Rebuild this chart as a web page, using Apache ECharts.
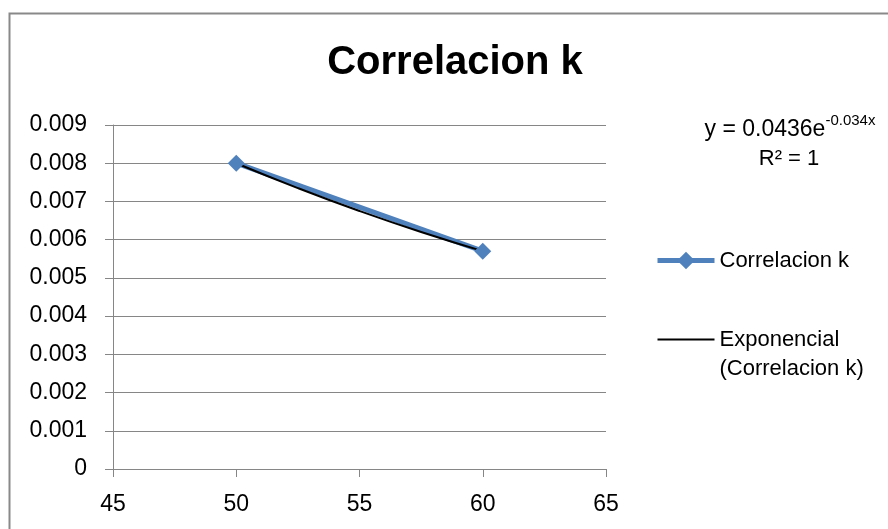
<!DOCTYPE html>
<html>
<head>
<meta charset="utf-8">
<script src="https://cdn.jsdelivr.net/npm/echarts@6/dist/echarts.min.js"></script>
<style>
html,body{margin:0;padding:0;background:#fff;}
#chart{width:888px;height:529px;}
</style>
</head>
<body>
<div id="chart"></div>
<script>
var titleText = 'Correlacion k';
var seriesName = 'Correlacion k';
var trendName = 'Exponencial (Correlacion k)';
var xValues = [50, 60];
var kValues = [0.0080, 0.0057];
var trendX = [50, 52.5, 55, 57.5, 60];
var trendY = [0.0080, 0.00735, 0.00675, 0.0062, 0.0057];
var xTicks = [45, 50, 55, 60, 65];
var yTickLabels = ['0', '0.001', '0.002', '0.003', '0.004', '0.005', '0.006', '0.007', '0.008', '0.009'];
var equationMain = 'y = 0.0436e';
var equationExp = '-0.034x';
var rSquared = 'R² = 1';

var FONT = '"Liberation Sans", Arial, sans-serif';
var chart = echarts.init(document.getElementById('chart'), null, {renderer: 'canvas'});

var mainData = xValues.map(function (x, i) { return [x, kValues[i]]; });
var trendData = trendX.map(function (x, i) { return [x, trendY[i]]; });

chart.setOption({
  animation: false,
  backgroundColor: '#ffffff',
  title: {
    text: titleText,
    left: 450,
    top: 38,
    textAlign: 'center',
    textStyle: {fontFamily: FONT, fontWeight: 'bold', fontSize: 40, color: '#000'}
  },
  grid: {left: 113, right: 282, top: 125, bottom: 60},
  xAxis: {
    type: 'value',
    min: xTicks[0],
    max: xTicks[xTicks.length - 1],
    interval: 5,
    axisLine: {show: true, lineStyle: {color: '#868686', width: 1}},
    axisTick: {show: true, length: 8, lineStyle: {color: '#868686'}},
    splitLine: {show: false},
    axisLabel: {fontFamily: FONT, fontSize: 23, color: '#000', margin: 24}
  },
  yAxis: {
    type: 'value',
    min: 0,
    max: 0.009,
    interval: 0.001,
    axisLine: {show: true, lineStyle: {color: '#868686', width: 1}},
    axisTick: {show: true, length: 8, lineStyle: {color: '#868686'}},
    splitLine: {show: true, lineStyle: {color: '#868686', width: 1}},
    axisLabel: {
      fontFamily: FONT, fontSize: 23, color: '#000', margin: 26,
      formatter: function (v, i) { return yTickLabels[Math.round(v * 1000)]; }
    }
  },
  legend: {
    orient: 'vertical',
    left: 655,
    top: 246,
    padding: 0,
    itemGap: 21,
    itemWidth: 57,
    itemHeight: 22,
    textStyle: {fontFamily: FONT, fontSize: 22, color: '#000', lineHeight: 29},
    formatter: function (name) {
      return name === trendName ? ' \n' + name.replace(' (', '\n(') : name;
    },
    data: [
      {name: seriesName, lineStyle: {width: 5, color: '#4F81BD'}},
      {name: trendName, lineStyle: {width: 2, color: '#000'}, itemStyle: {color: 'rgba(0,0,0,0)', borderWidth: 0}}
    ]
  },
  series: [
    {
      name: seriesName,
      type: 'line',
      data: mainData,
      symbol: 'diamond',
      symbolSize: 17,
      lineStyle: {color: '#4F81BD', width: 5},
      itemStyle: {color: '#4F81BD'}
    },
    {
      name: trendName,
      type: 'line',
      data: trendData,
      smooth: true,
      symbol: 'none',
      lineStyle: {color: '#000000', width: 2},
      itemStyle: {color: '#000000'}
    }
  ],
  graphic: [
    {
      type: 'rect',
      shape: {x: 9.5, y: 13.5, width: 900, height: 600},
      style: {fill: null, stroke: '#898989', lineWidth: 2},
      silent: true
    },
    {
      type: 'text',
      x: 790, y: 127,
      style: {
        text: '{a|' + equationMain + '}{s|' + equationExp + '}',
        align: 'center', verticalAlign: 'middle',
        rich: {
          a: {fontFamily: FONT, fontSize: 23, fill: '#000', lineHeight: 28, verticalAlign: 'bottom'},
          s: {fontFamily: FONT, fontSize: 15, fill: '#000', lineHeight: 28, verticalAlign: 'top'}
        }
      }
    },
    {
      type: 'text',
      x: 789, y: 159,
      style: {text: rSquared, align: 'center', verticalAlign: 'middle', fontFamily: FONT, fontSize: 22, fill: '#000'}
    }
  ]
});
</script>
</body>
</html>
